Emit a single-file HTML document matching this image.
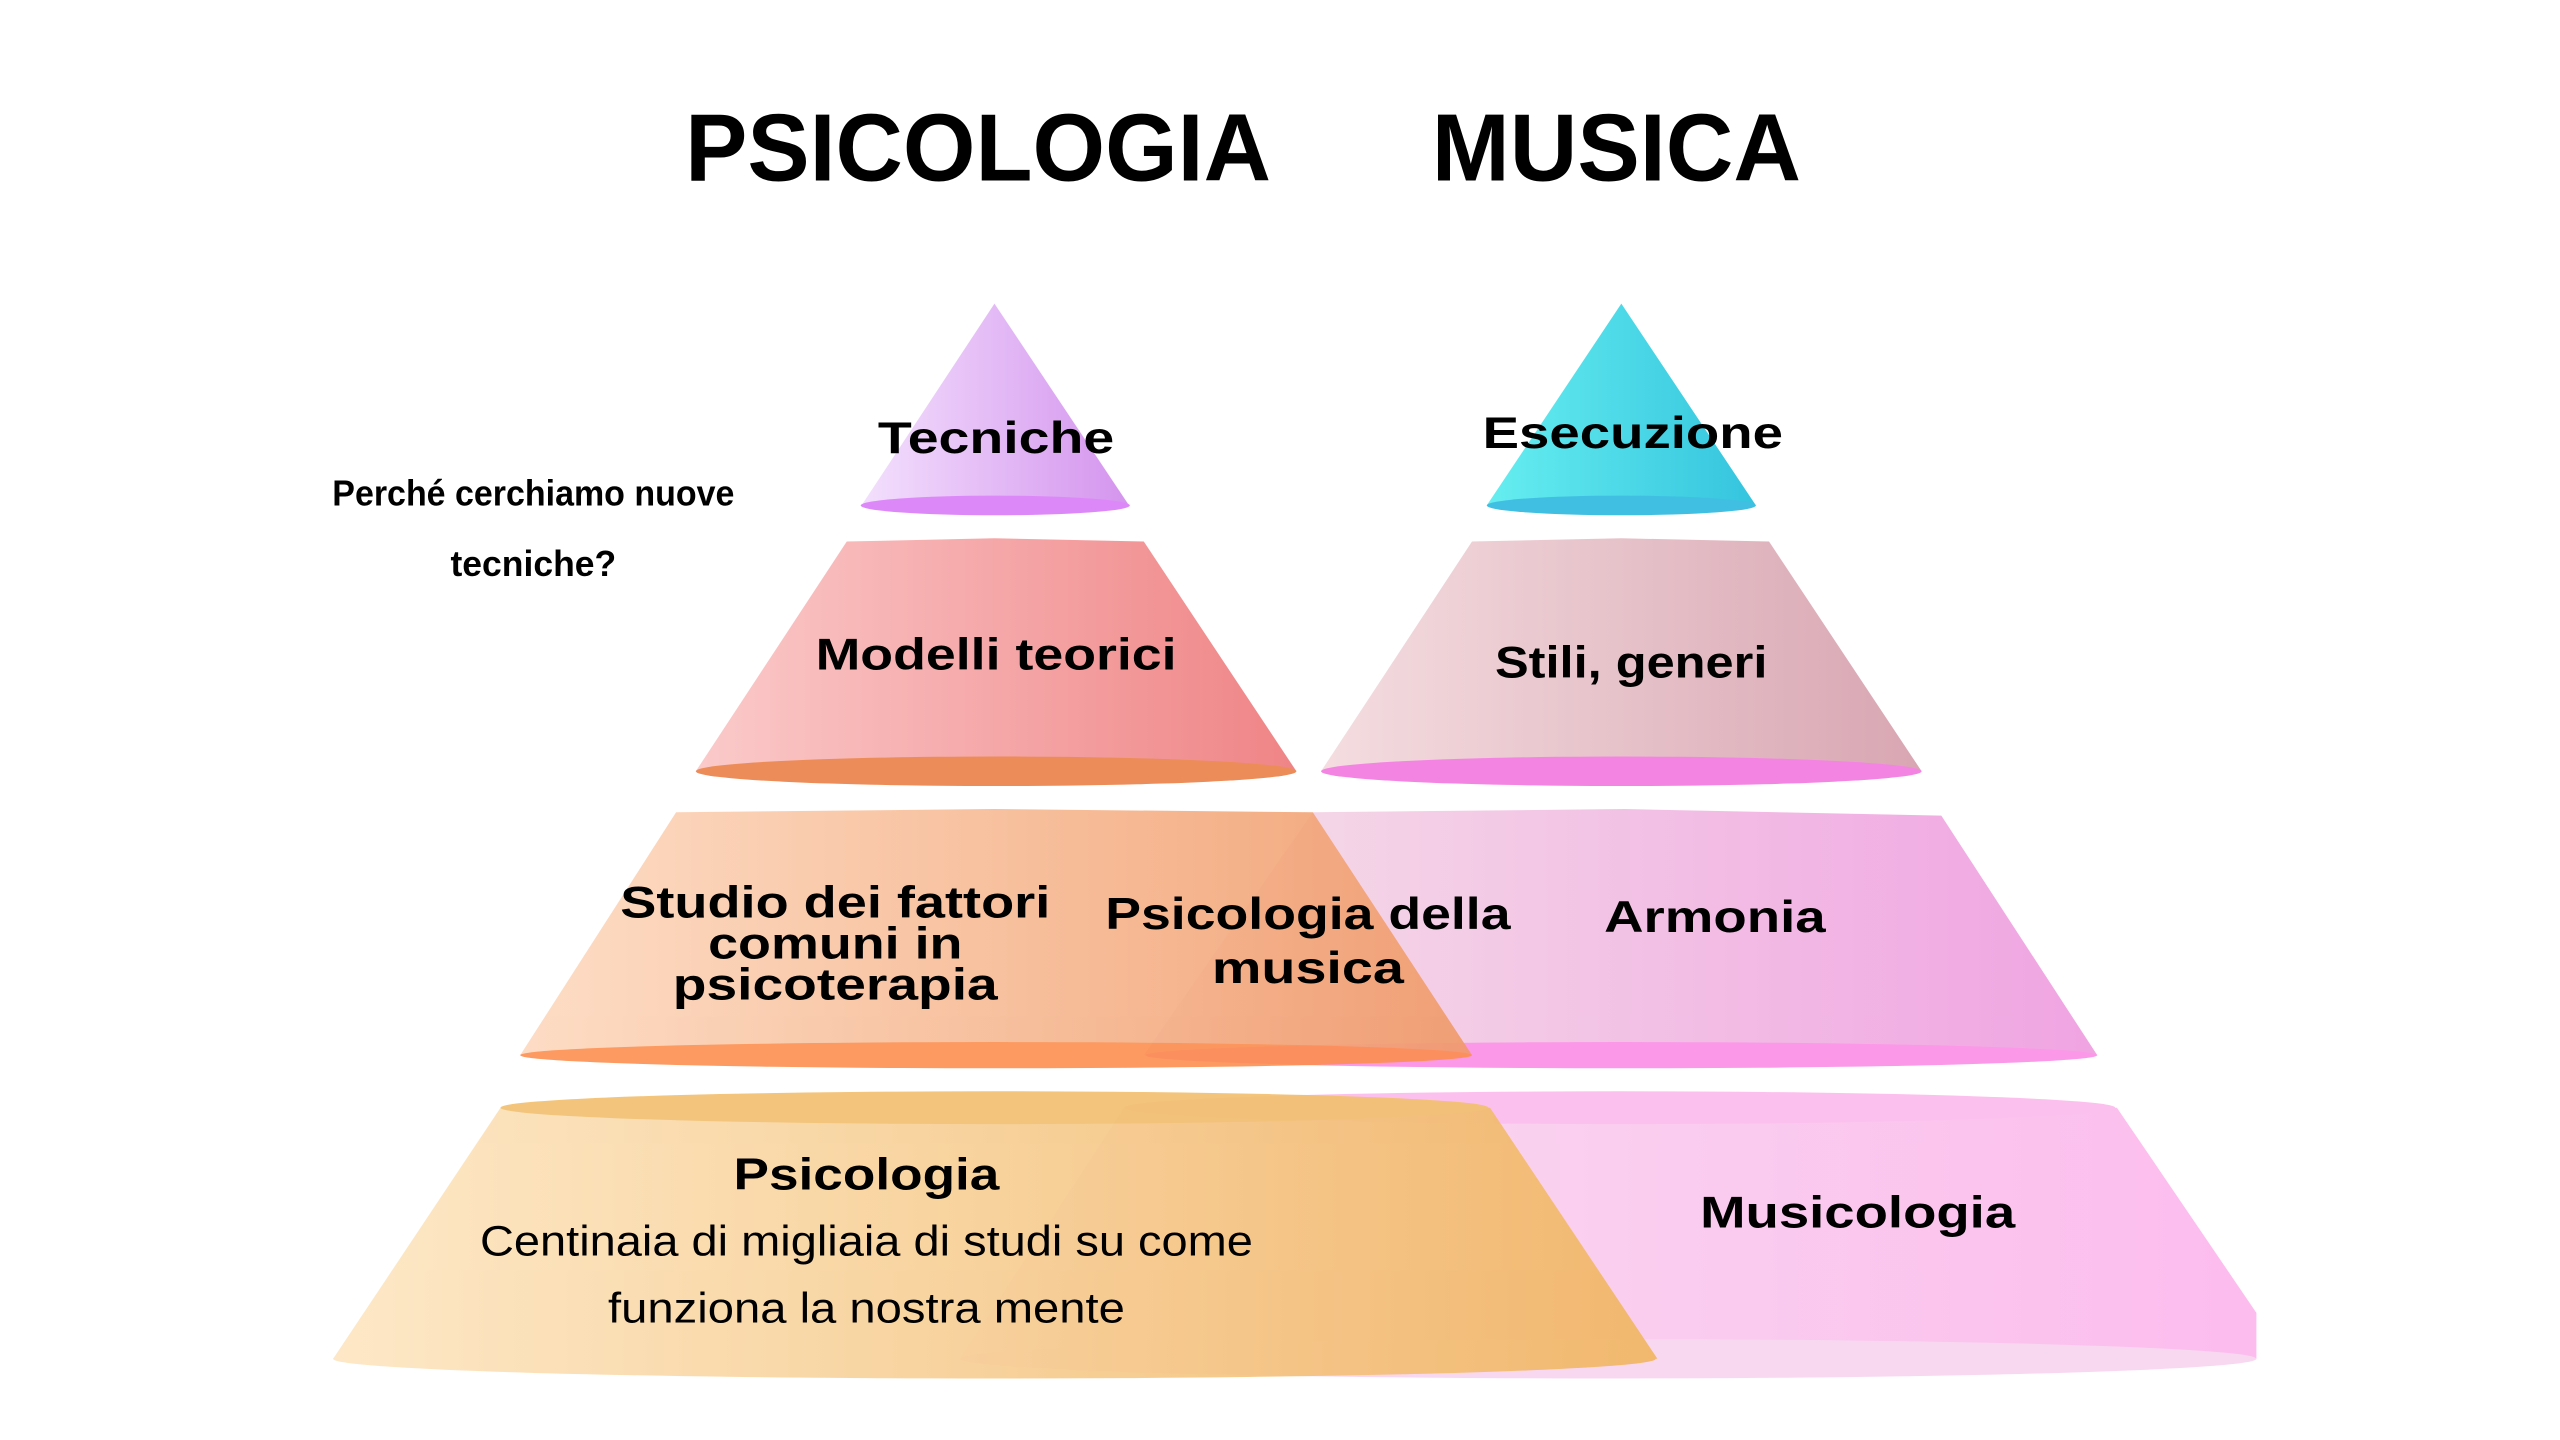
<!DOCTYPE html>
<html><head><meta charset="utf-8"><style>
html,body{margin:0;padding:0;background:#fff;}
svg{display:block;}
text{font-family:"Liberation Sans",sans-serif;fill:#000;}
</style></head><body>
<svg width="2560" height="1440" viewBox="0 0 1560 877.5" preserveAspectRatio="none" xmlns="http://www.w3.org/2000/svg">
<defs>
<linearGradient id="gT" x1="0" x2="1"><stop offset="0" stop-color="#f3e0fd"/><stop offset="1" stop-color="#d494ee"/></linearGradient>
<linearGradient id="gE" x1="0" x2="1"><stop offset="0" stop-color="#66eef0"/><stop offset="1" stop-color="#34c4de"/></linearGradient>
<linearGradient id="gM" x1="0" x2="1"><stop offset="0" stop-color="#fbcaca"/><stop offset="1" stop-color="#ef8486"/></linearGradient>
<linearGradient id="gS" x1="0" x2="1"><stop offset="0" stop-color="#f4dde0"/><stop offset="1" stop-color="#d8a6b2"/></linearGradient>
<linearGradient id="g3L" x1="0" x2="1"><stop offset="0" stop-color="#fdd9bf"/><stop offset="1" stop-color="#f09a68"/></linearGradient>
<linearGradient id="g3R" x1="0" x2="1"><stop offset="0" stop-color="#f5e0e8"/><stop offset="1" stop-color="#f0a4e2"/></linearGradient>
<linearGradient id="g4L" x1="0" x2="1"><stop offset="0" stop-color="#fde6c2"/><stop offset="1" stop-color="#f1b664"/></linearGradient>
<linearGradient id="g4R" x1="0" x2="1"><stop offset="0" stop-color="#f8e0f0"/><stop offset="1" stop-color="#fcbcee"/></linearGradient>
</defs>

<!-- titles -->
<text x="596" y="110" font-size="58" font-weight="bold" text-anchor="middle" textLength="357" lengthAdjust="spacingAndGlyphs">PSICOLOGIA</text>
<text x="985" y="110" font-size="58" font-weight="bold" text-anchor="middle" textLength="225" lengthAdjust="spacingAndGlyphs">MUSICA</text>

<!-- level 1 -->
<polygon points="606,185 525,308 688,308" fill="url(#gT)"/>
<ellipse cx="606.5" cy="308" rx="82" ry="6" fill="#dd88f8"/>
<polygon points="988,185 906,308 1070,308" fill="url(#gE)"/>
<ellipse cx="988" cy="308" rx="82" ry="6" fill="#40bfe2"/>

<!-- level 2 -->
<polygon points="516,330 606,328 697,330 790,470 424,470" fill="url(#gM)"/>
<ellipse cx="607" cy="470" rx="183" ry="9" fill="#ec8c58"/>
<polygon points="897,330 988,328 1078,330 1171,470 805,470" fill="url(#gS)"/>
<ellipse cx="988" cy="470" rx="183" ry="9" fill="#f484e2"/>

<!-- level 3 -->
<polygon points="800,495 990,493 1183,497 1278,643 697,643" fill="url(#g3R)"/>
<ellipse cx="988" cy="643" rx="290" ry="8" fill="#fb98e8"/>
<g opacity="0.9">
<polygon points="412,495 606,493 800,495 897,643 317,643" fill="url(#g3L)"/>
<ellipse cx="607" cy="643" rx="290" ry="8" fill="#fc9050"/>
</g>

<!-- level 4 -->
<polygon points="685,675 1290,675 1375,800 1375,828 585,828" fill="url(#g4R)"/>
<ellipse cx="987" cy="675" rx="302" ry="10" fill="#fcc0ee"/>
<ellipse cx="980" cy="828" rx="395" ry="12" fill="#f8d8f0"/>
<g opacity="0.92">
<polygon points="305,675 908,675 1010,828 203,828" fill="url(#g4L)"/>
<ellipse cx="606" cy="675" rx="301" ry="10" fill="#f2c070"/>
<ellipse cx="606" cy="828" rx="403" ry="12" fill="url(#g4L)"/>
</g>

<!-- labels -->
<text x="607" y="276" font-size="27" font-weight="bold" text-anchor="middle" textLength="144" lengthAdjust="spacingAndGlyphs">Tecniche</text>
<text x="995" y="273" font-size="27" font-weight="bold" text-anchor="middle" textLength="183" lengthAdjust="spacingAndGlyphs">Esecuzione</text>
<text x="607" y="408" font-size="27" font-weight="bold" text-anchor="middle" textLength="220" lengthAdjust="spacingAndGlyphs">Modelli teorici</text>
<text x="994" y="413" font-size="27" font-weight="bold" text-anchor="middle" textLength="166" lengthAdjust="spacingAndGlyphs">Stili, generi</text>
<text x="509" y="559" font-size="27" font-weight="bold" text-anchor="middle" textLength="262" lengthAdjust="spacingAndGlyphs">Studio dei fattori</text>
<text x="509" y="584" font-size="27" font-weight="bold" text-anchor="middle" textLength="155" lengthAdjust="spacingAndGlyphs">comuni in</text>
<text x="509" y="609" font-size="27" font-weight="bold" text-anchor="middle" textLength="198" lengthAdjust="spacingAndGlyphs">psicoterapia</text>
<text x="797" y="566" font-size="27" font-weight="bold" text-anchor="middle" textLength="247" lengthAdjust="spacingAndGlyphs">Psicologia della</text>
<text x="797" y="599" font-size="27" font-weight="bold" text-anchor="middle" textLength="117" lengthAdjust="spacingAndGlyphs">musica</text>
<text x="1045" y="568" font-size="27" font-weight="bold" text-anchor="middle" textLength="135" lengthAdjust="spacingAndGlyphs">Armonia</text>
<text x="528" y="725" font-size="27" font-weight="bold" text-anchor="middle" textLength="162" lengthAdjust="spacingAndGlyphs">Psicologia</text>
<text x="528" y="765" font-size="26" text-anchor="middle" textLength="471" lengthAdjust="spacingAndGlyphs">Centinaia di migliaia di studi su come</text>
<text x="528" y="806" font-size="26" text-anchor="middle" textLength="315" lengthAdjust="spacingAndGlyphs">funziona la nostra mente</text>
<text x="1132" y="748" font-size="27" font-weight="bold" text-anchor="middle" textLength="192" lengthAdjust="spacingAndGlyphs">Musicologia</text>

<text x="325" y="308" font-size="22" font-weight="bold" text-anchor="middle" textLength="245" lengthAdjust="spacingAndGlyphs" style="font-family:'Liberation Sans Narrow','Liberation Sans',sans-serif">Perché cerchiamo nuove</text>
<text x="325" y="351" font-size="22" font-weight="bold" text-anchor="middle" textLength="101" lengthAdjust="spacingAndGlyphs" style="font-family:'Liberation Sans Narrow','Liberation Sans',sans-serif">tecniche?</text>
</svg>
</body></html>
